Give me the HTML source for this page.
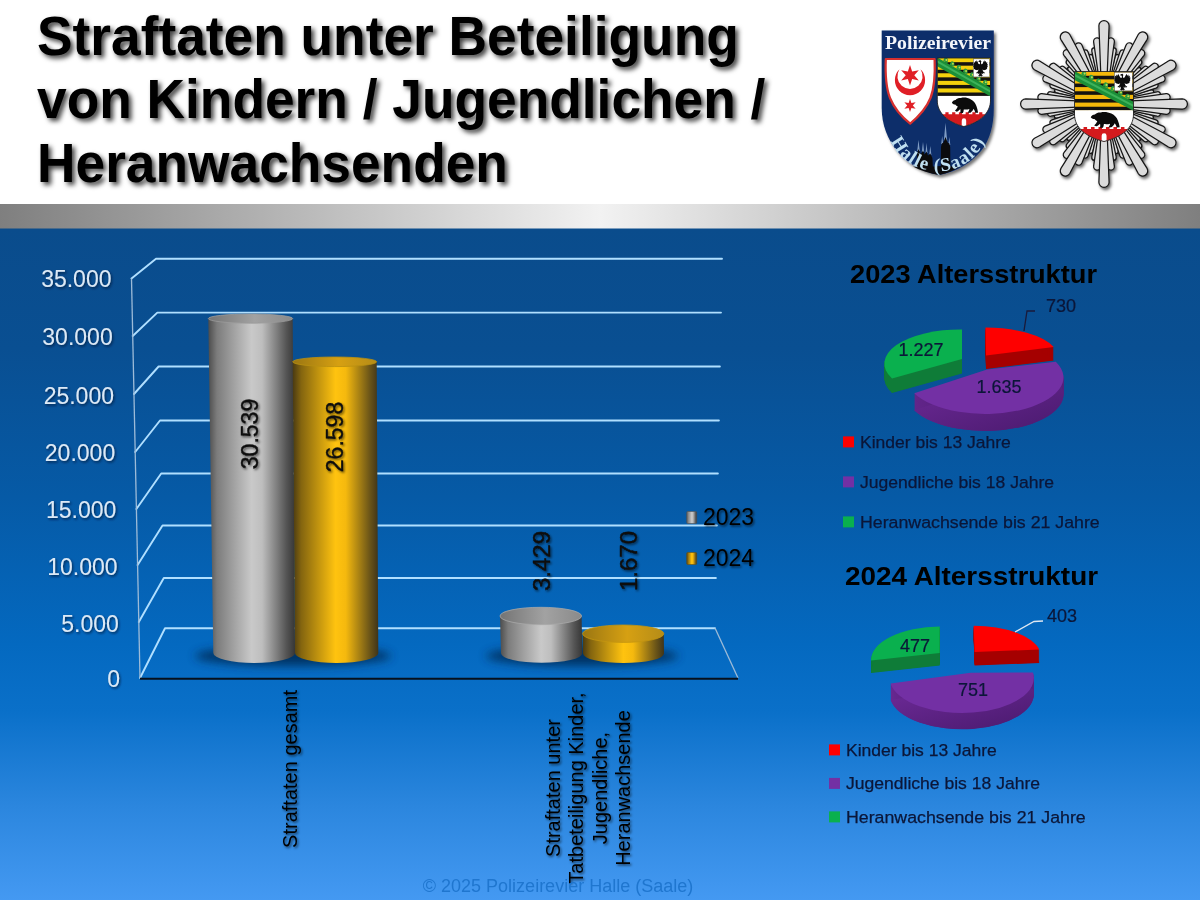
<!DOCTYPE html>
<html lang="de"><head><meta charset="utf-8"><title>Straftaten unter Beteiligung von Kindern / Jugendlichen / Heranwachsenden</title>
<style>
html,body{margin:0;padding:0;background:#fff;}
body{width:1200px;height:900px;overflow:hidden;position:relative;font-family:"Liberation Sans",sans-serif;}
svg{position:absolute;left:0;top:0;display:block;}
text{font-family:"Liberation Sans",sans-serif;}
.ttl{font-weight:bold;font-size:53.3px;fill:#000;}
.ax{font-size:23px;fill:#dce9f6;}
.cat{font-size:20px;fill:#000;}
.dl{font-size:23px;fill:#0c0c0c;stroke:#0c0c0c;stroke-width:0.35px;}
.lg{font-size:23px;fill:#000;}
.pt{font-weight:bold;font-size:25px;fill:#000;}
.pl{font-size:16.8px;fill:#0b1638;stroke:#0b1638;stroke-width:0.25px;}
.pv{font-size:18px;fill:#0b1638;stroke:#0b1638;stroke-width:0.2px;}
.ft{font-size:18px;fill:#1f76cf;}
.ser{font-family:"Liberation Serif",serif;font-weight:bold;}
</style></head><body>
<svg width="1200" height="900" viewBox="0 0 1200 900">
<defs>
<linearGradient id="gbar" x1="0" x2="1" y1="0" y2="0">
<stop offset="0" stop-color="#7f7f7f"/><stop offset="0.5" stop-color="#f2f2f2"/><stop offset="1" stop-color="#7f7f7f"/></linearGradient>
<linearGradient id="bg" x1="0" x2="0" y1="0" y2="1">
<stop offset="0" stop-color="#0a4c8c"/><stop offset="0.18" stop-color="#094f92"/><stop offset="0.4" stop-color="#065aa6"/><stop offset="0.62" stop-color="#0469c0"/><stop offset="0.72" stop-color="#0a70c9"/><stop offset="0.86" stop-color="#2b86de"/><stop offset="1" stop-color="#4499f2"/></linearGradient>
<linearGradient id="cg" x1="0" x2="1" y1="0" y2="0">
<stop offset="0" stop-color="#4c4c4c"/><stop offset="0.1" stop-color="#7c7c7c"/><stop offset="0.5" stop-color="#c9c9c9"/><stop offset="0.62" stop-color="#bebebe"/><stop offset="0.9" stop-color="#555555"/><stop offset="1" stop-color="#363636"/></linearGradient>
<linearGradient id="cy" x1="0" x2="1" y1="0" y2="0">
<stop offset="0" stop-color="#4a3a12"/><stop offset="0.1" stop-color="#84650f"/><stop offset="0.5" stop-color="#ffc30f"/><stop offset="0.62" stop-color="#f5b90e"/><stop offset="0.9" stop-color="#6b5518"/><stop offset="1" stop-color="#3f341a"/></linearGradient>
<linearGradient id="cgt" x1="0" x2="1" y1="0" y2="0">
<stop offset="0" stop-color="#747474"/><stop offset="0.55" stop-color="#a2a2a2"/><stop offset="1" stop-color="#8a8a8a"/></linearGradient>
<linearGradient id="cyt" x1="0" x2="1" y1="0" y2="0">
<stop offset="0" stop-color="#9a7612"/><stop offset="0.55" stop-color="#d6a012"/><stop offset="1" stop-color="#b58c18"/></linearGradient>
<filter id="tsh" x="-5%" y="-20%" width="110%" height="150%"><feDropShadow dx="3" dy="3" stdDeviation="2.6" flood-color="#000" flood-opacity="0.75"/></filter>
<filter id="ssh" x="-20%" y="-20%" width="140%" height="150%"><feDropShadow dx="1.3" dy="1.5" stdDeviation="1" flood-color="#000" flood-opacity="0.6"/></filter>
<filter id="ash" x="-20%" y="-30%" width="140%" height="170%"><feDropShadow dx="1.2" dy="1.5" stdDeviation="0.9" flood-color="#001a3a" flood-opacity="0.8"/></filter>
<filter id="blur6" x="-30%" y="-100%" width="160%" height="300%"><feGaussianBlur stdDeviation="5"/></filter>
<filter id="lsh" x="-20%" y="-20%" width="140%" height="140%"><feDropShadow dx="2" dy="2.5" stdDeviation="1.6" flood-color="#000" flood-opacity="0.55"/></filter>
</defs>
<rect x="0" y="0" width="1200" height="205" fill="#fff"/>
<rect x="0" y="228" width="1200" height="672" fill="url(#bg)"/>
<rect x="0" y="204" width="1200" height="24.5" fill="url(#gbar)"/>

<g class="ttl" filter="url(#tsh)">
<text transform="translate(37,55.0) scale(1,1.035)">Straftaten unter Beteiligung</text>
<text transform="translate(37,118.4) scale(1,1.035)">von Kindern / Jugendlichen /</text>
<text transform="translate(37,181.8) scale(1,1.035)">Heranwachsenden</text>
</g>
<g fill="none" stroke="#b0dfff" stroke-width="1.9" stroke-linejoin="round" stroke-linecap="round">
<path d="M140.0,678 L165.0,628.3 L715.0,628.3"/>
<path d="M138.8,622 L163.8,578 L715.9,578"/>
<path d="M137.6,565 L162.5,525.5 L716.9,525.5"/>
<path d="M136.4,509 L161.2,473.5 L717.9,473.5"/>
<path d="M135.2,452 L160.0,420.5 L718.9,420.5"/>
<path d="M134.0,394 L158.6,366.5 L719.9,366.5"/>
<path d="M132.7,336 L157.3,312.6 L721.0,312.6"/>
<path d="M131.5,278.5 L156.0,258.8 L722.0,258.8"/>
</g>
<path d="M131.5,278.5 L140.0,678" stroke="#9dbbd8" stroke-width="1.3" fill="none"/>
<path d="M715,628 L738,678" stroke="#9dbbd8" stroke-width="1.3" fill="none"/>
<path d="M140,678.8 L738,678.8" stroke="#07101c" stroke-width="2" fill="none"/>
<g class="ax" text-anchor="end" filter="url(#ash)">
<text x="120.0" y="687.4">0</text>
<text x="118.8" y="631.7">5.000</text>
<text x="117.6" y="575.1">10.000</text>
<text x="116.4" y="517.7">15.000</text>
<text x="115.2" y="461.1">20.000</text>
<text x="114.0" y="404.1">25.000</text>
<text x="112.7" y="345.1">30.000</text>
<text x="111.5" y="286.7">35.000</text>
</g>
<ellipse cx="293" cy="656" rx="98" ry="10" fill="#032a55" opacity="0.85" filter="url(#blur6)"/>
<ellipse cx="582" cy="656" rx="96" ry="10" fill="#032a55" opacity="0.85" filter="url(#blur6)"/>
<path d="M208.3,318.6 L213.3,653 A40.849999999999994,10 0 0 0 295,653 L292.7,318.6 Z" fill="url(#cg)"/>
<ellipse cx="250.5" cy="318.6" rx="42.19999999999999" ry="4.6" fill="url(#cgt)" stroke="#9a9a9a" stroke-width="0.8"/>
<path d="M292.7,361.8 L295,653 A41.650000000000006,10 0 0 0 378.3,653 L376.7,361.8 Z" fill="url(#cy)"/>
<ellipse cx="334.7" cy="361.8" rx="42.0" ry="4.8" fill="url(#cyt)" stroke="#b98f10" stroke-width="0.8"/>
<path d="M500,616 L501,653.3 A40.64999999999998,9.5 0 0 0 582.3,653.3 L581.6,616 Z" fill="url(#cg)"/>
<ellipse cx="540.8" cy="616" rx="40.80000000000001" ry="8.7" fill="url(#cgt)" stroke="#a8a8a8" stroke-width="0.8"/>
<path d="M582.6,633.7 L583,653.5 A40.5,9.5 0 0 0 664,653.5 L663.8,633.7 Z" fill="url(#cy)"/>
<ellipse cx="623.2" cy="633.7" rx="40.599999999999966" ry="8.7" fill="url(#cyt)" stroke="#c4960f" stroke-width="0.8"/>
<g class="dl" filter="url(#ssh)">
<text transform="translate(258,434) rotate(-90)" text-anchor="middle">30.539</text>
<text transform="translate(343,437) rotate(-90)" text-anchor="middle">26.598</text>
</g>
<g class="dl" filter="url(#ssh)" style="font-size:24px">
<text transform="translate(550,561) rotate(-90)" text-anchor="middle">3.429</text>
<text transform="translate(637,561) rotate(-90)" text-anchor="middle">1.670</text>
</g>
<rect x="686.7" y="511.5" width="10" height="12" fill="url(#cg)" stroke="#555" stroke-width="0.6" rx="1"/>
<rect x="686.7" y="552.5" width="10" height="12" fill="url(#cy)" stroke="#6a5210" stroke-width="0.6" rx="1"/>
<g class="lg" filter="url(#ssh)"><text x="703" y="524.5">2023</text><text x="703" y="565.5">2024</text></g>
<g class="cat" filter="url(#ssh)">
<text transform="translate(297,690) rotate(-90)" text-anchor="end">Straftaten gesamt</text>
<text transform="translate(560.0,788) rotate(-90)" text-anchor="middle">Straftaten unter</text>
<text transform="translate(583.3,788) rotate(-90)" text-anchor="middle">Tatbeteiligung Kinder,</text>
<text transform="translate(606.6,788) rotate(-90)" text-anchor="middle">Jugendliche,</text>
<text transform="translate(629.9,788) rotate(-90)" text-anchor="middle">Heranwachsende</text>
</g>
<text class="ft" x="558" y="892" text-anchor="middle">© 2025 Polizeirevier Halle (Saale)</text><defs>
<linearGradient id="ps" x1="0" x2="1" y1="0" y2="1"><stop offset="0" stop-color="#6d2a97"/><stop offset="1" stop-color="#4a1a6e"/></linearGradient>
</defs>
<g fill="#0f7c38">
<path d="M962,359 L962,329.5 A75.5,34 0 0 0 892,378.4 Z" transform="translate(0,14)"/>
<path d="M962,359 L962,329.5 A75.5,34 0 0 0 892,378.4 Z" transform="translate(0,13)"/>
<path d="M962,359 L962,329.5 A75.5,34 0 0 0 892,378.4 Z" transform="translate(0,12)"/>
<path d="M962,359 L962,329.5 A75.5,34 0 0 0 892,378.4 Z" transform="translate(0,11)"/>
<path d="M962,359 L962,329.5 A75.5,34 0 0 0 892,378.4 Z" transform="translate(0,10)"/>
<path d="M962,359 L962,329.5 A75.5,34 0 0 0 892,378.4 Z" transform="translate(0,9)"/>
<path d="M962,359 L962,329.5 A75.5,34 0 0 0 892,378.4 Z" transform="translate(0,8)"/>
<path d="M962,359 L962,329.5 A75.5,34 0 0 0 892,378.4 Z" transform="translate(0,7)"/>
<path d="M962,359 L962,329.5 A75.5,34 0 0 0 892,378.4 Z" transform="translate(0,6)"/>
<path d="M962,359 L962,329.5 A75.5,34 0 0 0 892,378.4 Z" transform="translate(0,5)"/>
<path d="M962,359 L962,329.5 A75.5,34 0 0 0 892,378.4 Z" transform="translate(0,4)"/>
<path d="M962,359 L962,329.5 A75.5,34 0 0 0 892,378.4 Z" transform="translate(0,3)"/>
<path d="M962,359 L962,329.5 A75.5,34 0 0 0 892,378.4 Z" transform="translate(0,2)"/>
<path d="M962,359 L962,329.5 A75.5,34 0 0 0 892,378.4 Z" transform="translate(0,1)"/>
<path d="M962,359 L962,329.5 A75.5,34 0 0 0 892,378.4 Z" transform="translate(0,14.5)"/>
</g>
<path d="M962,359 L962,329.5 A75.5,34 0 0 0 892,378.4 Z" fill="#0ab04e"/>
<g fill="#a50000">
<path d="M986,355.5 L985.5,327.6 A72.7,30.4 0 0 1 1053.7,347 Z" transform="translate(0,13)"/>
<path d="M986,355.5 L985.5,327.6 A72.7,30.4 0 0 1 1053.7,347 Z" transform="translate(0,12)"/>
<path d="M986,355.5 L985.5,327.6 A72.7,30.4 0 0 1 1053.7,347 Z" transform="translate(0,11)"/>
<path d="M986,355.5 L985.5,327.6 A72.7,30.4 0 0 1 1053.7,347 Z" transform="translate(0,10)"/>
<path d="M986,355.5 L985.5,327.6 A72.7,30.4 0 0 1 1053.7,347 Z" transform="translate(0,9)"/>
<path d="M986,355.5 L985.5,327.6 A72.7,30.4 0 0 1 1053.7,347 Z" transform="translate(0,8)"/>
<path d="M986,355.5 L985.5,327.6 A72.7,30.4 0 0 1 1053.7,347 Z" transform="translate(0,7)"/>
<path d="M986,355.5 L985.5,327.6 A72.7,30.4 0 0 1 1053.7,347 Z" transform="translate(0,6)"/>
<path d="M986,355.5 L985.5,327.6 A72.7,30.4 0 0 1 1053.7,347 Z" transform="translate(0,5)"/>
<path d="M986,355.5 L985.5,327.6 A72.7,30.4 0 0 1 1053.7,347 Z" transform="translate(0,4)"/>
<path d="M986,355.5 L985.5,327.6 A72.7,30.4 0 0 1 1053.7,347 Z" transform="translate(0,3)"/>
<path d="M986,355.5 L985.5,327.6 A72.7,30.4 0 0 1 1053.7,347 Z" transform="translate(0,2)"/>
<path d="M986,355.5 L985.5,327.6 A72.7,30.4 0 0 1 1053.7,347 Z" transform="translate(0,1)"/>
<path d="M986,355.5 L985.5,327.6 A72.7,30.4 0 0 1 1053.7,347 Z" transform="translate(0,13.5)"/>
</g>
<path d="M986,355.5 L985.5,327.6 A72.7,30.4 0 0 1 1053.7,347 Z" fill="#fe0000"/>
<g fill="url(#ps)">
<path d="M914.2,393.2 L987,369.5 L1055.8,361.7 A78.45,36.5 0 0 1 914.2,393.2 Z" transform="translate(0,17)"/>
<path d="M914.2,393.2 L987,369.5 L1055.8,361.7 A78.45,36.5 0 0 1 914.2,393.2 Z" transform="translate(0,16)"/>
<path d="M914.2,393.2 L987,369.5 L1055.8,361.7 A78.45,36.5 0 0 1 914.2,393.2 Z" transform="translate(0,15)"/>
<path d="M914.2,393.2 L987,369.5 L1055.8,361.7 A78.45,36.5 0 0 1 914.2,393.2 Z" transform="translate(0,14)"/>
<path d="M914.2,393.2 L987,369.5 L1055.8,361.7 A78.45,36.5 0 0 1 914.2,393.2 Z" transform="translate(0,13)"/>
<path d="M914.2,393.2 L987,369.5 L1055.8,361.7 A78.45,36.5 0 0 1 914.2,393.2 Z" transform="translate(0,12)"/>
<path d="M914.2,393.2 L987,369.5 L1055.8,361.7 A78.45,36.5 0 0 1 914.2,393.2 Z" transform="translate(0,11)"/>
<path d="M914.2,393.2 L987,369.5 L1055.8,361.7 A78.45,36.5 0 0 1 914.2,393.2 Z" transform="translate(0,10)"/>
<path d="M914.2,393.2 L987,369.5 L1055.8,361.7 A78.45,36.5 0 0 1 914.2,393.2 Z" transform="translate(0,9)"/>
<path d="M914.2,393.2 L987,369.5 L1055.8,361.7 A78.45,36.5 0 0 1 914.2,393.2 Z" transform="translate(0,8)"/>
<path d="M914.2,393.2 L987,369.5 L1055.8,361.7 A78.45,36.5 0 0 1 914.2,393.2 Z" transform="translate(0,7)"/>
<path d="M914.2,393.2 L987,369.5 L1055.8,361.7 A78.45,36.5 0 0 1 914.2,393.2 Z" transform="translate(0,6)"/>
<path d="M914.2,393.2 L987,369.5 L1055.8,361.7 A78.45,36.5 0 0 1 914.2,393.2 Z" transform="translate(0,5)"/>
<path d="M914.2,393.2 L987,369.5 L1055.8,361.7 A78.45,36.5 0 0 1 914.2,393.2 Z" transform="translate(0,4)"/>
<path d="M914.2,393.2 L987,369.5 L1055.8,361.7 A78.45,36.5 0 0 1 914.2,393.2 Z" transform="translate(0,3)"/>
<path d="M914.2,393.2 L987,369.5 L1055.8,361.7 A78.45,36.5 0 0 1 914.2,393.2 Z" transform="translate(0,2)"/>
<path d="M914.2,393.2 L987,369.5 L1055.8,361.7 A78.45,36.5 0 0 1 914.2,393.2 Z" transform="translate(0,1)"/>
<path d="M914.2,393.2 L987,369.5 L1055.8,361.7 A78.45,36.5 0 0 1 914.2,393.2 Z" transform="translate(0,17)"/>
</g>
<path d="M914.2,393.2 L987,369.5 L1055.8,361.7 A78.45,36.5 0 0 1 914.2,393.2 Z" fill="#7330a4"/>
<g fill="#0f7c38">
<path d="M939.7,653 L939.7,626.6 A70,33.4 0 0 0 871,660.5 Z" transform="translate(0,12)"/>
<path d="M939.7,653 L939.7,626.6 A70,33.4 0 0 0 871,660.5 Z" transform="translate(0,11)"/>
<path d="M939.7,653 L939.7,626.6 A70,33.4 0 0 0 871,660.5 Z" transform="translate(0,10)"/>
<path d="M939.7,653 L939.7,626.6 A70,33.4 0 0 0 871,660.5 Z" transform="translate(0,9)"/>
<path d="M939.7,653 L939.7,626.6 A70,33.4 0 0 0 871,660.5 Z" transform="translate(0,8)"/>
<path d="M939.7,653 L939.7,626.6 A70,33.4 0 0 0 871,660.5 Z" transform="translate(0,7)"/>
<path d="M939.7,653 L939.7,626.6 A70,33.4 0 0 0 871,660.5 Z" transform="translate(0,6)"/>
<path d="M939.7,653 L939.7,626.6 A70,33.4 0 0 0 871,660.5 Z" transform="translate(0,5)"/>
<path d="M939.7,653 L939.7,626.6 A70,33.4 0 0 0 871,660.5 Z" transform="translate(0,4)"/>
<path d="M939.7,653 L939.7,626.6 A70,33.4 0 0 0 871,660.5 Z" transform="translate(0,3)"/>
<path d="M939.7,653 L939.7,626.6 A70,33.4 0 0 0 871,660.5 Z" transform="translate(0,2)"/>
<path d="M939.7,653 L939.7,626.6 A70,33.4 0 0 0 871,660.5 Z" transform="translate(0,1)"/>
<path d="M939.7,653 L939.7,626.6 A70,33.4 0 0 0 871,660.5 Z" transform="translate(0,12.5)"/>
</g>
<path d="M939.7,653 L939.7,626.6 A70,33.4 0 0 0 871,660.5 Z" fill="#0ab04e"/>
<g fill="#a50000">
<path d="M974.6,652 L973.7,625.7 A68,30 0 0 1 1039.3,649.5 Z" transform="translate(0,13)"/>
<path d="M974.6,652 L973.7,625.7 A68,30 0 0 1 1039.3,649.5 Z" transform="translate(0,12)"/>
<path d="M974.6,652 L973.7,625.7 A68,30 0 0 1 1039.3,649.5 Z" transform="translate(0,11)"/>
<path d="M974.6,652 L973.7,625.7 A68,30 0 0 1 1039.3,649.5 Z" transform="translate(0,10)"/>
<path d="M974.6,652 L973.7,625.7 A68,30 0 0 1 1039.3,649.5 Z" transform="translate(0,9)"/>
<path d="M974.6,652 L973.7,625.7 A68,30 0 0 1 1039.3,649.5 Z" transform="translate(0,8)"/>
<path d="M974.6,652 L973.7,625.7 A68,30 0 0 1 1039.3,649.5 Z" transform="translate(0,7)"/>
<path d="M974.6,652 L973.7,625.7 A68,30 0 0 1 1039.3,649.5 Z" transform="translate(0,6)"/>
<path d="M974.6,652 L973.7,625.7 A68,30 0 0 1 1039.3,649.5 Z" transform="translate(0,5)"/>
<path d="M974.6,652 L973.7,625.7 A68,30 0 0 1 1039.3,649.5 Z" transform="translate(0,4)"/>
<path d="M974.6,652 L973.7,625.7 A68,30 0 0 1 1039.3,649.5 Z" transform="translate(0,3)"/>
<path d="M974.6,652 L973.7,625.7 A68,30 0 0 1 1039.3,649.5 Z" transform="translate(0,2)"/>
<path d="M974.6,652 L973.7,625.7 A68,30 0 0 1 1039.3,649.5 Z" transform="translate(0,1)"/>
<path d="M974.6,652 L973.7,625.7 A68,30 0 0 1 1039.3,649.5 Z" transform="translate(0,13.5)"/>
</g>
<path d="M974.6,652 L973.7,625.7 A68,30 0 0 1 1039.3,649.5 Z" fill="#fe0000"/>
<g fill="url(#ps)">
<path d="M890.6,683.4 L970.7,672.75 L1033,672.5 A71.9,35 0 0 1 890.6,683.4 Z" transform="translate(0,16)"/>
<path d="M890.6,683.4 L970.7,672.75 L1033,672.5 A71.9,35 0 0 1 890.6,683.4 Z" transform="translate(0,15)"/>
<path d="M890.6,683.4 L970.7,672.75 L1033,672.5 A71.9,35 0 0 1 890.6,683.4 Z" transform="translate(0,14)"/>
<path d="M890.6,683.4 L970.7,672.75 L1033,672.5 A71.9,35 0 0 1 890.6,683.4 Z" transform="translate(0,13)"/>
<path d="M890.6,683.4 L970.7,672.75 L1033,672.5 A71.9,35 0 0 1 890.6,683.4 Z" transform="translate(0,12)"/>
<path d="M890.6,683.4 L970.7,672.75 L1033,672.5 A71.9,35 0 0 1 890.6,683.4 Z" transform="translate(0,11)"/>
<path d="M890.6,683.4 L970.7,672.75 L1033,672.5 A71.9,35 0 0 1 890.6,683.4 Z" transform="translate(0,10)"/>
<path d="M890.6,683.4 L970.7,672.75 L1033,672.5 A71.9,35 0 0 1 890.6,683.4 Z" transform="translate(0,9)"/>
<path d="M890.6,683.4 L970.7,672.75 L1033,672.5 A71.9,35 0 0 1 890.6,683.4 Z" transform="translate(0,8)"/>
<path d="M890.6,683.4 L970.7,672.75 L1033,672.5 A71.9,35 0 0 1 890.6,683.4 Z" transform="translate(0,7)"/>
<path d="M890.6,683.4 L970.7,672.75 L1033,672.5 A71.9,35 0 0 1 890.6,683.4 Z" transform="translate(0,6)"/>
<path d="M890.6,683.4 L970.7,672.75 L1033,672.5 A71.9,35 0 0 1 890.6,683.4 Z" transform="translate(0,5)"/>
<path d="M890.6,683.4 L970.7,672.75 L1033,672.5 A71.9,35 0 0 1 890.6,683.4 Z" transform="translate(0,4)"/>
<path d="M890.6,683.4 L970.7,672.75 L1033,672.5 A71.9,35 0 0 1 890.6,683.4 Z" transform="translate(0,3)"/>
<path d="M890.6,683.4 L970.7,672.75 L1033,672.5 A71.9,35 0 0 1 890.6,683.4 Z" transform="translate(0,2)"/>
<path d="M890.6,683.4 L970.7,672.75 L1033,672.5 A71.9,35 0 0 1 890.6,683.4 Z" transform="translate(0,1)"/>
<path d="M890.6,683.4 L970.7,672.75 L1033,672.5 A71.9,35 0 0 1 890.6,683.4 Z" transform="translate(0,16.3)"/>
</g>
<path d="M890.6,683.4 L970.7,672.75 L1033,672.5 A71.9,35 0 0 1 890.6,683.4 Z" fill="#7330a4"/>
<path d="M1035,311 L1027,311 L1024,331" fill="none" stroke="#1a1a3a" stroke-width="1.3"/>
<path d="M1043,621 L1034,621.5 L1015,632" fill="none" stroke="#dfe8f2" stroke-width="1.3"/>
<text class="pt" x="850" y="283" textLength="247" lengthAdjust="spacingAndGlyphs">2023 Altersstruktur</text>
<text class="pt" x="845" y="585" textLength="253" lengthAdjust="spacingAndGlyphs">2024 Altersstruktur</text>
<g class="pv">
<text x="921" y="356" text-anchor="middle">1.227</text>
<text x="999" y="393" text-anchor="middle">1.635</text>
<text x="1061" y="311.5" text-anchor="middle">730</text>
<text x="915" y="652" text-anchor="middle">477</text>
<text x="973" y="696" text-anchor="middle">751</text>
<text x="1062" y="622" text-anchor="middle">403</text>
</g>
<rect x="843" y="436.4" width="11" height="11" fill="#fe0000"/>
<text class="pl" x="860" y="447.8" textLength="150.8" lengthAdjust="spacingAndGlyphs">Kinder bis 13 Jahre</text>
<rect x="843" y="476.4" width="11" height="11" fill="#7330a4"/>
<text class="pl" x="860" y="487.8" textLength="194" lengthAdjust="spacingAndGlyphs">Jugendliche bis 18 Jahre</text>
<rect x="843" y="516.4" width="11" height="11" fill="#0ab04e"/>
<text class="pl" x="860" y="527.8" textLength="239.7" lengthAdjust="spacingAndGlyphs">Heranwachsende bis 21 Jahre</text>
<rect x="829" y="744.4" width="11" height="11" fill="#fe0000"/>
<text class="pl" x="846" y="755.8" textLength="150.8" lengthAdjust="spacingAndGlyphs">Kinder bis 13 Jahre</text>
<rect x="829" y="777.9" width="11" height="11" fill="#7330a4"/>
<text class="pl" x="846" y="789.3" textLength="194" lengthAdjust="spacingAndGlyphs">Jugendliche bis 18 Jahre</text>
<rect x="829" y="811.4" width="11" height="11" fill="#0ab04e"/>
<text class="pl" x="846" y="822.8" textLength="239.7" lengthAdjust="spacingAndGlyphs">Heranwachsende bis 21 Jahre</text><defs>
<clipPath id="shc"><path d="M0,0 H60 V43 C60,57 48,66 30,70.5 C12,66 0,57 0,43 Z"/></clipPath>
<g id="arms">
<g clip-path="url(#shc)">
<rect x="0" y="0" width="60" height="39.5" fill="currentColor"/>
<rect x="0" y="4.3" width="60" height="3.6" fill="#141210"/>
<rect x="0" y="12.1" width="60" height="3.6" fill="#141210"/>
<rect x="0" y="19.9" width="60" height="3.6" fill="#141210"/>
<rect x="0" y="27.7" width="60" height="3.6" fill="#141210"/>
<rect x="0" y="35.5" width="60" height="3.6" fill="#141210"/>
<rect x="0" y="39" width="60" height="31" fill="#fff"/>
<path d="M0,-0.5 L60,30.5 L60,39.5 L0,8.5 Z" fill="#1b8f38"/>
<path d="M0,3.6 L60,34.6" stroke="#3db25a" stroke-width="2.2" fill="none"/>
<path d="M6.8,3.1 q1.2,-4.6 3.4,-3.4 q2.6,0.2 1.4,5.6 Z" fill="#2a9c41"/>
<circle cx="10.3" cy="2.1" r="1.05" fill="#c8d848"/>
<path d="M14.2,6.9 q1.2,-4.6 3.4,-3.4 q2.6,0.2 1.4,5.6 Z" fill="#2a9c41"/>
<circle cx="17.7" cy="5.9" r="1.05" fill="#c8d848"/>
<path d="M21.6,10.7 q1.2,-4.6 3.4,-3.4 q2.6,0.2 1.4,5.6 Z" fill="#2a9c41"/>
<circle cx="25.1" cy="9.7" r="1.05" fill="#c8d848"/>
<path d="M29.0,14.5 q1.2,-4.6 3.4,-3.4 q2.6,0.2 1.4,5.6 Z" fill="#2a9c41"/>
<circle cx="32.5" cy="13.5" r="1.05" fill="#c8d848"/>
<path d="M36.4,18.3 q1.2,-4.6 3.4,-3.4 q2.6,0.2 1.4,5.6 Z" fill="#2a9c41"/>
<circle cx="39.9" cy="17.3" r="1.05" fill="#c8d848"/>
<path d="M43.8,22.2 q1.2,-4.6 3.4,-3.4 q2.6,0.2 1.4,5.6 Z" fill="#2a9c41"/>
<circle cx="47.3" cy="21.2" r="1.05" fill="#c8d848"/>
<path d="M51.2,26.0 q1.2,-4.6 3.4,-3.4 q2.6,0.2 1.4,5.6 Z" fill="#2a9c41"/>
<circle cx="54.7" cy="25.0" r="1.05" fill="#c8d848"/>
<rect x="40.6" y="0.9" width="18.2" height="18.6" fill="#fff" stroke="#444" stroke-width="0.5"/>
<g transform="translate(40.7,1.2)" fill="#0d0d0d">
<path d="M9,2.2 l-0.9,-1.2 l-1.7,0.5 l-0.9,1.1 l1.5,0.2 l0.6,1.2 l-0.5,1.3 l-1.3,-0.4 l-1.2,-2.4 l-1.0,-1.5 l-0.5,2.0 l-1.2,-1.3 l-0.2,2.1 l-1.3,-0.9 l0.2,2.3 l-0.9,-0.3 l0.6,2.2 l-0.6,0.1 l1.1,1.9 l-0.4,0.4 l1.6,1.3 l2.2,0.5 l1.6,-0.6 l-0.8,1.9 l-1.9,1.5 l0.4,0.7 l1.6,-0.8 l-0.2,1.5 l0.9,-0.3 l0.6,-1.2 l0.3,1.4 l-1.4,1.9 l1.3,-0.2 l0.5,1.1 l0.9,-1.1 l0.9,1.1 l0.5,-1.1 l1.3,0.2 l-1.4,-1.9 l0.3,-1.4 l0.6,1.2 l0.9,0.3 l-0.2,-1.5 l1.6,0.8 l0.4,-0.7 l-1.9,-1.5 l-0.8,-1.9 l1.6,0.6 l2.2,-0.5 l1.6,-1.3 l-0.4,-0.4 l1.1,-1.9 l-0.6,-0.1 l0.6,-2.2 l-0.9,0.3 l0.2,-2.3 l-1.3,0.9 l-0.2,-2.1 l-1.2,1.3 l-0.5,-2.0 l-1.0,1.5 l-1.2,2.4 l-1.3,0.4 l-0.4,-1.6 Z"/>
</g>
<path transform="translate(0,-3.8)" d="M6,61.6 h3.2 v-1.9 h3.6 v1.9 h4 v-1.9 h3.6 v1.9 h4 v-1.9 h3.6 v1.9 h4 v-1.9 h3.6 v1.9 h4 v-1.9 h3.6 v1.9 h4 v-1.9 h3.6 v1.9 H56 V76 H6 Z" fill="#d41a1d"/>
<path d="M27.6,70.5 V64.6 a2.5,2.5 0 0 1 5,0 V70.5 Z" fill="#fff"/>
<path transform="translate(0,-3.2)" d="M16.5,49.3 c0.6,-1.6 2.4,-2.6 4.2,-2.8 c1.2,-1.6 3.6,-2.2 6,-2.1 c3.2,-0.9 7.6,-0.4 10.8,1.2 c3.2,1.4 5.6,4 6.6,7 c0.8,2.2 1.6,4.4 1.9,6.8 l-3.2,0.2 c-0.2,-1.6 -0.9,-3 -1.9,-4.2 c-0.7,1.6 -1.9,3 -3.4,4 l-3.2,0.1 c0.9,-1.2 1.7,-2.4 1.9,-3.8 c-2,0.6 -4.2,0.7 -6.3,0.4 c-0.1,1.4 -0.4,2.6 -1,3.8 l-3,0 c0.3,-1.4 0.4,-2.8 0.1,-4.2 c-1,1.2 -2.4,2.2 -3.9,2.7 l-2.1,-0.9 c1.4,-1.2 2.5,-2.6 3.2,-4.3 c-1.2,-0.5 -2.1,-1.2 -2.9,-2.1 c-1.4,0.2 -2.8,-0.4 -3.8,-1.8 Z" fill="#0b0b0b"/>
</g>
<path d="M0,0 H60 V43 C60,57 48,66 30,70.5 C12,66 0,57 0,43 Z" fill="none" stroke="#222" stroke-width="0.9"/>
</g>
<linearGradient id="rayg" x1="0" x2="0" y1="0" y2="1"><stop offset="0" stop-color="#f0f0f0"/><stop offset="0.55" stop-color="#d9d9d9"/><stop offset="1" stop-color="#b9b9b9"/></linearGradient>
<filter id="stsh" x="-15%" y="-15%" width="130%" height="130%"><feDropShadow dx="1.6" dy="2.2" stdDeviation="1.7" flood-color="#000" flood-opacity="0.6"/></filter>
<path id="hallearc" d="M890.5,140 C897,157 915,171.3 938,171.3 C961,171.3 979,157 985.5,138.5"/>
</defs>
<g transform="translate(1104,104)" filter="url(#stsh)"><g fill="#dcdcdc" stroke="#161616" stroke-width="1.25" stroke-linejoin="round">
<path d="M6,-1.12 L48.70,-2.50 A2.50,2.50 0 0 1 48.70,2.50 L6,1.12 Z" transform="rotate(-76.10)"/>
<path d="M6,-1.12 L48.70,-2.50 A2.50,2.50 0 0 1 48.70,2.50 L6,1.12 Z" transform="rotate(-103.90)"/>
<path d="M6,-1.12 L48.70,-2.50 A2.50,2.50 0 0 1 48.70,2.50 L6,1.12 Z" transform="rotate(-46.10)"/>
<path d="M6,-1.12 L48.70,-2.50 A2.50,2.50 0 0 1 48.70,2.50 L6,1.12 Z" transform="rotate(-73.90)"/>
<path d="M6,-1.12 L48.70,-2.50 A2.50,2.50 0 0 1 48.70,2.50 L6,1.12 Z" transform="rotate(-16.10)"/>
<path d="M6,-1.12 L48.70,-2.50 A2.50,2.50 0 0 1 48.70,2.50 L6,1.12 Z" transform="rotate(-43.90)"/>
<path d="M6,-1.12 L48.70,-2.50 A2.50,2.50 0 0 1 48.70,2.50 L6,1.12 Z" transform="rotate(13.90)"/>
<path d="M6,-1.12 L48.70,-2.50 A2.50,2.50 0 0 1 48.70,2.50 L6,1.12 Z" transform="rotate(-13.90)"/>
<path d="M6,-1.12 L48.70,-2.50 A2.50,2.50 0 0 1 48.70,2.50 L6,1.12 Z" transform="rotate(43.90)"/>
<path d="M6,-1.12 L48.70,-2.50 A2.50,2.50 0 0 1 48.70,2.50 L6,1.12 Z" transform="rotate(16.10)"/>
<path d="M6,-1.12 L48.70,-2.50 A2.50,2.50 0 0 1 48.70,2.50 L6,1.12 Z" transform="rotate(73.90)"/>
<path d="M6,-1.12 L48.70,-2.50 A2.50,2.50 0 0 1 48.70,2.50 L6,1.12 Z" transform="rotate(46.10)"/>
<path d="M6,-1.12 L48.70,-2.50 A2.50,2.50 0 0 1 48.70,2.50 L6,1.12 Z" transform="rotate(103.90)"/>
<path d="M6,-1.12 L48.70,-2.50 A2.50,2.50 0 0 1 48.70,2.50 L6,1.12 Z" transform="rotate(76.10)"/>
<path d="M6,-1.12 L48.70,-2.50 A2.50,2.50 0 0 1 48.70,2.50 L6,1.12 Z" transform="rotate(133.90)"/>
<path d="M6,-1.12 L48.70,-2.50 A2.50,2.50 0 0 1 48.70,2.50 L6,1.12 Z" transform="rotate(106.10)"/>
<path d="M6,-1.12 L48.70,-2.50 A2.50,2.50 0 0 1 48.70,2.50 L6,1.12 Z" transform="rotate(163.90)"/>
<path d="M6,-1.12 L48.70,-2.50 A2.50,2.50 0 0 1 48.70,2.50 L6,1.12 Z" transform="rotate(136.10)"/>
<path d="M6,-1.12 L48.70,-2.50 A2.50,2.50 0 0 1 48.70,2.50 L6,1.12 Z" transform="rotate(193.90)"/>
<path d="M6,-1.12 L48.70,-2.50 A2.50,2.50 0 0 1 48.70,2.50 L6,1.12 Z" transform="rotate(166.10)"/>
<path d="M6,-1.12 L48.70,-2.50 A2.50,2.50 0 0 1 48.70,2.50 L6,1.12 Z" transform="rotate(223.90)"/>
<path d="M6,-1.12 L48.70,-2.50 A2.50,2.50 0 0 1 48.70,2.50 L6,1.12 Z" transform="rotate(196.10)"/>
<path d="M6,-1.12 L48.70,-2.50 A2.50,2.50 0 0 1 48.70,2.50 L6,1.12 Z" transform="rotate(253.90)"/>
<path d="M6,-1.12 L48.70,-2.50 A2.50,2.50 0 0 1 48.70,2.50 L6,1.12 Z" transform="rotate(226.10)"/>
<path d="M6,-1.35 L54.30,-3.00 A3.00,3.00 0 0 1 54.30,3.00 L6,1.35 Z" transform="rotate(-80.20)"/>
<path d="M6,-1.35 L54.30,-3.00 A3.00,3.00 0 0 1 54.30,3.00 L6,1.35 Z" transform="rotate(-99.80)"/>
<path d="M6,-1.35 L54.30,-3.00 A3.00,3.00 0 0 1 54.30,3.00 L6,1.35 Z" transform="rotate(-50.20)"/>
<path d="M6,-1.35 L54.30,-3.00 A3.00,3.00 0 0 1 54.30,3.00 L6,1.35 Z" transform="rotate(-69.80)"/>
<path d="M6,-1.35 L54.30,-3.00 A3.00,3.00 0 0 1 54.30,3.00 L6,1.35 Z" transform="rotate(-20.20)"/>
<path d="M6,-1.35 L54.30,-3.00 A3.00,3.00 0 0 1 54.30,3.00 L6,1.35 Z" transform="rotate(-39.80)"/>
<path d="M6,-1.35 L54.30,-3.00 A3.00,3.00 0 0 1 54.30,3.00 L6,1.35 Z" transform="rotate(9.80)"/>
<path d="M6,-1.35 L54.30,-3.00 A3.00,3.00 0 0 1 54.30,3.00 L6,1.35 Z" transform="rotate(-9.80)"/>
<path d="M6,-1.35 L54.30,-3.00 A3.00,3.00 0 0 1 54.30,3.00 L6,1.35 Z" transform="rotate(39.80)"/>
<path d="M6,-1.35 L54.30,-3.00 A3.00,3.00 0 0 1 54.30,3.00 L6,1.35 Z" transform="rotate(20.20)"/>
<path d="M6,-1.35 L54.30,-3.00 A3.00,3.00 0 0 1 54.30,3.00 L6,1.35 Z" transform="rotate(69.80)"/>
<path d="M6,-1.35 L54.30,-3.00 A3.00,3.00 0 0 1 54.30,3.00 L6,1.35 Z" transform="rotate(50.20)"/>
<path d="M6,-1.35 L54.30,-3.00 A3.00,3.00 0 0 1 54.30,3.00 L6,1.35 Z" transform="rotate(99.80)"/>
<path d="M6,-1.35 L54.30,-3.00 A3.00,3.00 0 0 1 54.30,3.00 L6,1.35 Z" transform="rotate(80.20)"/>
<path d="M6,-1.35 L54.30,-3.00 A3.00,3.00 0 0 1 54.30,3.00 L6,1.35 Z" transform="rotate(129.80)"/>
<path d="M6,-1.35 L54.30,-3.00 A3.00,3.00 0 0 1 54.30,3.00 L6,1.35 Z" transform="rotate(110.20)"/>
<path d="M6,-1.35 L54.30,-3.00 A3.00,3.00 0 0 1 54.30,3.00 L6,1.35 Z" transform="rotate(159.80)"/>
<path d="M6,-1.35 L54.30,-3.00 A3.00,3.00 0 0 1 54.30,3.00 L6,1.35 Z" transform="rotate(140.20)"/>
<path d="M6,-1.35 L54.30,-3.00 A3.00,3.00 0 0 1 54.30,3.00 L6,1.35 Z" transform="rotate(189.80)"/>
<path d="M6,-1.35 L54.30,-3.00 A3.00,3.00 0 0 1 54.30,3.00 L6,1.35 Z" transform="rotate(170.20)"/>
<path d="M6,-1.35 L54.30,-3.00 A3.00,3.00 0 0 1 54.30,3.00 L6,1.35 Z" transform="rotate(219.80)"/>
<path d="M6,-1.35 L54.30,-3.00 A3.00,3.00 0 0 1 54.30,3.00 L6,1.35 Z" transform="rotate(200.20)"/>
<path d="M6,-1.35 L54.30,-3.00 A3.00,3.00 0 0 1 54.30,3.00 L6,1.35 Z" transform="rotate(249.80)"/>
<path d="M6,-1.35 L54.30,-3.00 A3.00,3.00 0 0 1 54.30,3.00 L6,1.35 Z" transform="rotate(230.20)"/>
<path d="M6,-1.62 L62.90,-3.60 A3.60,3.60 0 0 1 62.90,3.60 L6,1.62 Z" transform="rotate(-83.80)"/>
<path d="M6,-1.62 L62.90,-3.60 A3.60,3.60 0 0 1 62.90,3.60 L6,1.62 Z" transform="rotate(-96.20)"/>
<path d="M6,-1.62 L62.90,-3.60 A3.60,3.60 0 0 1 62.90,3.60 L6,1.62 Z" transform="rotate(-53.80)"/>
<path d="M6,-1.62 L62.90,-3.60 A3.60,3.60 0 0 1 62.90,3.60 L6,1.62 Z" transform="rotate(-66.20)"/>
<path d="M6,-1.62 L62.90,-3.60 A3.60,3.60 0 0 1 62.90,3.60 L6,1.62 Z" transform="rotate(-23.80)"/>
<path d="M6,-1.62 L62.90,-3.60 A3.60,3.60 0 0 1 62.90,3.60 L6,1.62 Z" transform="rotate(-36.20)"/>
<path d="M6,-1.62 L62.90,-3.60 A3.60,3.60 0 0 1 62.90,3.60 L6,1.62 Z" transform="rotate(6.20)"/>
<path d="M6,-1.62 L62.90,-3.60 A3.60,3.60 0 0 1 62.90,3.60 L6,1.62 Z" transform="rotate(-6.20)"/>
<path d="M6,-1.62 L62.90,-3.60 A3.60,3.60 0 0 1 62.90,3.60 L6,1.62 Z" transform="rotate(36.20)"/>
<path d="M6,-1.62 L62.90,-3.60 A3.60,3.60 0 0 1 62.90,3.60 L6,1.62 Z" transform="rotate(23.80)"/>
<path d="M6,-1.62 L62.90,-3.60 A3.60,3.60 0 0 1 62.90,3.60 L6,1.62 Z" transform="rotate(66.20)"/>
<path d="M6,-1.62 L62.90,-3.60 A3.60,3.60 0 0 1 62.90,3.60 L6,1.62 Z" transform="rotate(53.80)"/>
<path d="M6,-1.62 L62.90,-3.60 A3.60,3.60 0 0 1 62.90,3.60 L6,1.62 Z" transform="rotate(96.20)"/>
<path d="M6,-1.62 L62.90,-3.60 A3.60,3.60 0 0 1 62.90,3.60 L6,1.62 Z" transform="rotate(83.80)"/>
<path d="M6,-1.62 L62.90,-3.60 A3.60,3.60 0 0 1 62.90,3.60 L6,1.62 Z" transform="rotate(126.20)"/>
<path d="M6,-1.62 L62.90,-3.60 A3.60,3.60 0 0 1 62.90,3.60 L6,1.62 Z" transform="rotate(113.80)"/>
<path d="M6,-1.62 L62.90,-3.60 A3.60,3.60 0 0 1 62.90,3.60 L6,1.62 Z" transform="rotate(156.20)"/>
<path d="M6,-1.62 L62.90,-3.60 A3.60,3.60 0 0 1 62.90,3.60 L6,1.62 Z" transform="rotate(143.80)"/>
<path d="M6,-1.62 L62.90,-3.60 A3.60,3.60 0 0 1 62.90,3.60 L6,1.62 Z" transform="rotate(186.20)"/>
<path d="M6,-1.62 L62.90,-3.60 A3.60,3.60 0 0 1 62.90,3.60 L6,1.62 Z" transform="rotate(173.80)"/>
<path d="M6,-1.62 L62.90,-3.60 A3.60,3.60 0 0 1 62.90,3.60 L6,1.62 Z" transform="rotate(216.20)"/>
<path d="M6,-1.62 L62.90,-3.60 A3.60,3.60 0 0 1 62.90,3.60 L6,1.62 Z" transform="rotate(203.80)"/>
<path d="M6,-1.62 L62.90,-3.60 A3.60,3.60 0 0 1 62.90,3.60 L6,1.62 Z" transform="rotate(246.20)"/>
<path d="M6,-1.62 L62.90,-3.60 A3.60,3.60 0 0 1 62.90,3.60 L6,1.62 Z" transform="rotate(233.80)"/>
<path d="M6,-2.29 L78.30,-5.10 A5.10,5.10 0 0 1 78.30,5.10 L6,2.29 Z" transform="rotate(-90.00)"/>
<path d="M6,-2.29 L77.30,-5.10 A5.10,5.10 0 0 1 77.30,5.10 L6,2.29 Z" transform="rotate(-60.00)"/>
<path d="M6,-2.29 L77.30,-5.10 A5.10,5.10 0 0 1 77.30,5.10 L6,2.29 Z" transform="rotate(-30.00)"/>
<path d="M6,-2.29 L78.30,-5.10 A5.10,5.10 0 0 1 78.30,5.10 L6,2.29 Z" transform="rotate(0.00)"/>
<path d="M6,-2.29 L77.30,-5.10 A5.10,5.10 0 0 1 77.30,5.10 L6,2.29 Z" transform="rotate(30.00)"/>
<path d="M6,-2.29 L77.30,-5.10 A5.10,5.10 0 0 1 77.30,5.10 L6,2.29 Z" transform="rotate(60.00)"/>
<path d="M6,-2.29 L78.30,-5.10 A5.10,5.10 0 0 1 78.30,5.10 L6,2.29 Z" transform="rotate(90.00)"/>
<path d="M6,-2.29 L77.30,-5.10 A5.10,5.10 0 0 1 77.30,5.10 L6,2.29 Z" transform="rotate(120.00)"/>
<path d="M6,-2.29 L77.30,-5.10 A5.10,5.10 0 0 1 77.30,5.10 L6,2.29 Z" transform="rotate(150.00)"/>
<path d="M6,-2.29 L78.30,-5.10 A5.10,5.10 0 0 1 78.30,5.10 L6,2.29 Z" transform="rotate(180.00)"/>
<path d="M6,-2.29 L77.30,-5.10 A5.10,5.10 0 0 1 77.30,5.10 L6,2.29 Z" transform="rotate(210.00)"/>
<path d="M6,-2.29 L77.30,-5.10 A5.10,5.10 0 0 1 77.30,5.10 L6,2.29 Z" transform="rotate(240.00)"/>
</g></g>
<use href="#arms" style="color:#f4b80a" transform="translate(1074.5,71.5) scale(0.9833,0.993)"/>
<g filter="url(#lsh)">
<path d="M881.7,30.4 H993.8 V108 C993.8,125 990,140 981,151 C972,162 957,172 939,175 C921,172 906,162 897,151 C888,140 881.7,125 881.7,108 Z" fill="#0d2d6b"/>
</g>
<g fill="#7f9cc4">
<path d="M945.5,123 L947.2,141 L943.8,141 Z"/>
<path d="M942.2,136 L943.2,144 L941.2,144 Z"/><path d="M949.3,137 L950.3,145 L948.3,145 Z"/>
<path d="M918.5,140 L919.8,151 L917.2,151 Z"/><path d="M923,142 L924.2,152 L921.8,152 Z"/><path d="M926.5,143 L927.5,153 L925.5,153 Z"/><path d="M930.3,146 L931.4,155 L929.2,155 Z"/>
</g>
<g fill="#0b0b0d">
<path d="M913,166.5 C920,168 927,166 934,166.5 L941,166 L960,166.5 C955,170 947,173.5 939,175 C929,173 920,170.5 913,166.5 Z"/>
<path d="M945.5,137 L947.6,142.5 L949.3,143.5 L950.2,147 L950.4,169 L940.8,169 L941,147 L941.9,143.5 L943.4,142.5 Z"/>
<path d="M918.5,149 L920.3,154 L921.8,153 L923,150.5 L924.6,154.5 L926.5,151.5 L928,155.5 L930.3,153.5 L932.4,158 L933,169 L916.5,168 L917,154 Z"/>
</g>
<text class="ser" x="885" y="49.4" font-size="19.8" fill="#f4f6fa" textLength="106" lengthAdjust="spacingAndGlyphs">Polizeirevier</text>
<path d="M885.8,59 H934.6 C935.2,74 934.4,88 930.5,98 C926,109 917,118 910.2,123.6 C903,118 894.5,109 890,98 C886,88 885.2,74 885.8,59 Z" fill="#fff" stroke="#d6302f" stroke-width="2.2" stroke-linejoin="round"/>
<path d="M899.48,69.37 A15.1,15.1 0 1 0 920.52,69.37 A12.6,12.6 0 1 1 899.48,69.37 Z" fill="#e01f26"/>
<polygon points="910.00,65.10 912.15,71.58 918.83,70.20 914.30,75.30 918.83,80.40 912.15,79.02 910.00,85.50 907.85,79.02 901.17,80.40 905.70,75.30 901.17,70.20 907.85,71.58" fill="#e01f26"/>
<polygon points="910.00,99.00 911.40,103.08 915.63,102.25 912.80,105.50 915.63,108.75 911.40,107.92 910.00,112.00 908.60,107.92 904.37,108.75 907.20,105.50 904.37,102.25 908.60,103.08" fill="#e01f26"/>
<use href="#arms" style="color:#f3d00c" transform="translate(937.2,58) scale(0.889,0.972)"/>
<text class="ser" font-size="19" fill="#c0e0f1"><textPath href="#hallearc" startOffset="1" textLength="118" lengthAdjust="spacing">Halle (Saale)</textPath></text></svg></body></html>
